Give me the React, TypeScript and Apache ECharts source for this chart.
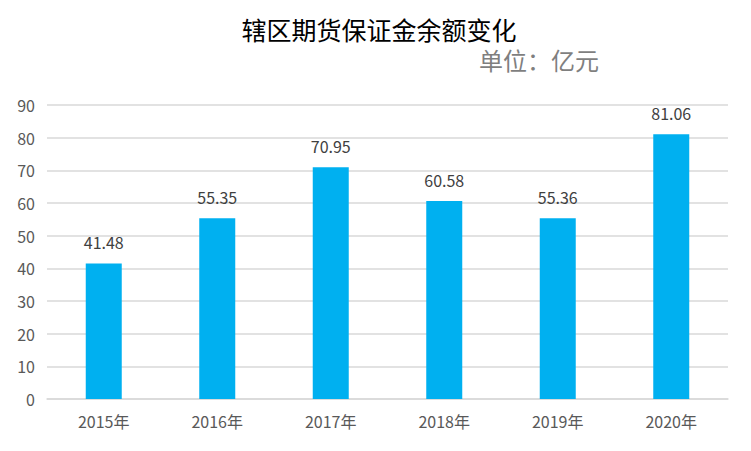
import React, { useEffect, useRef } from "react";
import * as echarts from "echarts";

const categories = ["2015年", "2016年", "2017年", "2018年", "2019年", "2020年"];
const values = [41.48, 55.35, 70.95, 60.58, 55.36, 81.06];
const titleText = "辖区期货保证金余额变化";
const unitText = "单位：亿元";

export default function App() {
  const ref = useRef<HTMLDivElement>(null);
  useEffect(() => {
    if (!ref.current) return;
    const chart = echarts.init(ref.current, null, { renderer: "svg" });
    const font = "'Noto Sans CJK SC', sans-serif";
    chart.setOption({
      animation: false,
      backgroundColor: "#ffffff",
      textStyle: { fontFamily: font },
      title: [
        {
          text: titleText,
          left: 374,
          textAlign: "center",
          top: 11,
          textStyle: { fontSize: 25, fontWeight: "normal", color: "#000000", fontFamily: font },
        },
        {
          text: unitText,
          left: 474,
          top: 42,
          textStyle: { fontSize: 24, fontWeight: "normal", color: "#7f7f7f", fontFamily: font },
        },
      ],
      grid: { left: 47, right: 23, top: 105, bottom: 52 },
      xAxis: {
        type: "category",
        data: categories,
        axisTick: { show: false },
        axisLine: { lineStyle: { color: "#d9d9d9", width: 1.5 } },
        axisLabel: { color: "#595959", fontSize: 16, margin: 14, fontFamily: font },
      },
      yAxis: {
        type: "value",
        min: 0,
        max: 90,
        interval: 10,
        axisLine: { show: false },
        axisTick: { show: false },
        splitLine: { lineStyle: { color: "#d9d9d9", width: 1.5 } },
        axisLabel: { color: "#595959", fontSize: 16, margin: 12, fontFamily: font },
      },
      series: [
        {
          type: "bar",
          data: values,
          barWidth: 36,
          itemStyle: { color: "#00b0f0" },
          label: {
            show: true,
            position: "top",
            distance: 13,
            color: "#404040",
            fontSize: 16,
            fontFamily: font,
          },
        },
      ],
    });
    return () => chart.dispose();
  }, []);
  return <div ref={ref} style={{ width: 751, height: 451, margin: -8 }} />;
}
